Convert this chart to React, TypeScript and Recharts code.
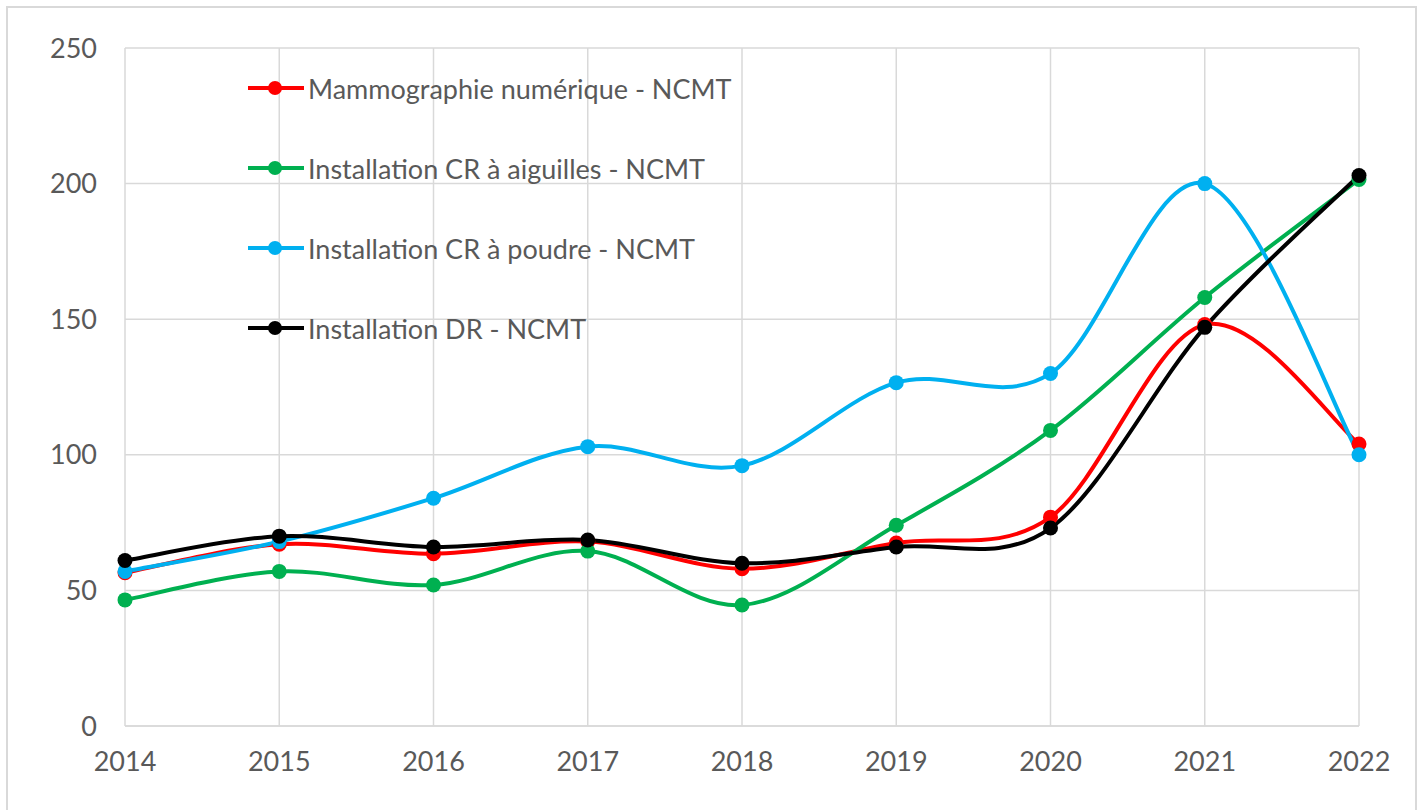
import React from 'react';
import { LineChart, Line, XAxis, YAxis, CartesianGrid, Legend } from 'recharts';

const years = ['2014', '2015', '2016', '2017', '2018', '2019', '2020', '2021', '2022'];
const mammographie = [56.5, 67, 63.5, 68, 58, 67.5, 77, 148, 104];
const crAiguilles = [46.5, 57, 52, 64.5, 44.6, 74, 109, 158, 201.5];
const crPoudre = [57, 68, 84, 103, 96, 126.6, 130, 200, 100];
const dr = [61, 70, 66, 68.6, 60, 66, 73, 147, 203];
const yTicks = [0, 50, 100, 150, 200, 250];

const series = [
  { key: 'mammo', name: 'Mammographie numérique - NCMT', color: '#FF0000' },
  { key: 'aiguilles', name: 'Installation CR à aiguilles - NCMT', color: '#00B050' },
  { key: 'poudre', name: 'Installation CR à poudre - NCMT', color: '#00B0F0' },
  { key: 'dr', name: 'Installation DR - NCMT', color: '#000000' },
];

const data = years.map((year, i) => ({
  year,
  mammo: mammographie[i],
  aiguilles: crAiguilles[i],
  poudre: crPoudre[i],
  dr: dr[i],
}));

// Excel-style smoothing: Catmull-Rom spline drawn as cubic beziers
const excelSmooth = (context: any) => {
  let pts: number[][] = [];
  return {
    areaStart() {},
    areaEnd() {},
    lineStart() {
      pts = [];
    },
    point(x: number, y: number) {
      pts.push([+x, +y]);
    },
    lineEnd() {
      if (!pts.length) return;
      context.moveTo(pts[0][0], pts[0][1]);
      for (let i = 0; i < pts.length - 1; i++) {
        const p0 = pts[i - 1] || pts[i];
        const p1 = pts[i];
        const p2 = pts[i + 1];
        const p3 = pts[i + 2] || p2;
        context.bezierCurveTo(
          p1[0] + (p2[0] - p0[0]) / 6,
          p1[1] + (p2[1] - p0[1]) / 6,
          p2[0] - (p3[0] - p1[0]) / 6,
          p2[1] - (p3[1] - p1[1]) / 6,
          p2[0],
          p2[1]
        );
      }
    },
  };
};

const font = 'Lato, "Noto Sans", sans-serif';

const LegendBox = () => (
  <div style={{ fontFamily: font, fontSize: 27, color: '#595959' }}>
    {series.map((s) => (
      <div key={s.key} style={{ display: 'flex', alignItems: 'center', height: 80 }}>
        <svg width={58} height={20}>
          <line x1={0} y1={10} x2={56} y2={10} stroke={s.color} strokeWidth={4} />
          <circle cx={27} cy={10} r={7} fill={s.color} />
        </svg>
        <span style={{ marginLeft: 2, whiteSpace: 'nowrap' }}>{s.name}</span>
      </div>
    ))}
  </div>
);

const App = () => (
  <div style={{ position: 'absolute', left: 0, top: 0, width: 1422, height: 810, background: '#fff' }}>
    <div
      style={{
        position: 'absolute',
        left: 6,
        top: 6,
        width: 1411,
        height: 820,
        border: '2px solid #d9d9d9',
        boxSizing: 'border-box',
      }}
    />
    <div style={{ position: 'absolute', left: 0, top: 0 }}>
      <LineChart width={1422} height={810} data={data} margin={{ top: 48, right: 63, bottom: 24, left: 25 }}>
        <CartesianGrid stroke="#d9d9d9" strokeWidth={1.5} />
        <XAxis
          dataKey="year"
          axisLine={{ stroke: '#d9d9d9', strokeWidth: 1.5 }}
          tickLine={false}
          tickSize={0}
          tickMargin={26}
          height={60}
          interval={0}
          tick={{ fill: '#595959', fontSize: 27, fontFamily: font }}
        />
        <YAxis
          domain={[0, 250]}
          ticks={yTicks}
          axisLine={false}
          tickLine={false}
          tickSize={0}
          tickMargin={28}
          width={100}
          tick={{ fill: '#595959', fontSize: 27, fontFamily: font }}
        />
        <Legend
          layout="vertical"
          align="center"
          verticalAlign="middle"
          content={() => <LegendBox />}
          wrapperStyle={{ position: 'absolute', left: 248, top: 48, width: 'auto' }}
        />
        {series.map((s) => (
          <Line
            key={s.key}
            dataKey={s.key}
            name={s.name}
            type={excelSmooth as any}
            stroke={s.color}
            strokeWidth={4}
            dot={{ r: 7.5, fill: s.color, stroke: s.color, strokeWidth: 0 }}
            activeDot={false}
            isAnimationActive={false}
          />
        ))}
      </LineChart>
    </div>
  </div>
);

export default App;
